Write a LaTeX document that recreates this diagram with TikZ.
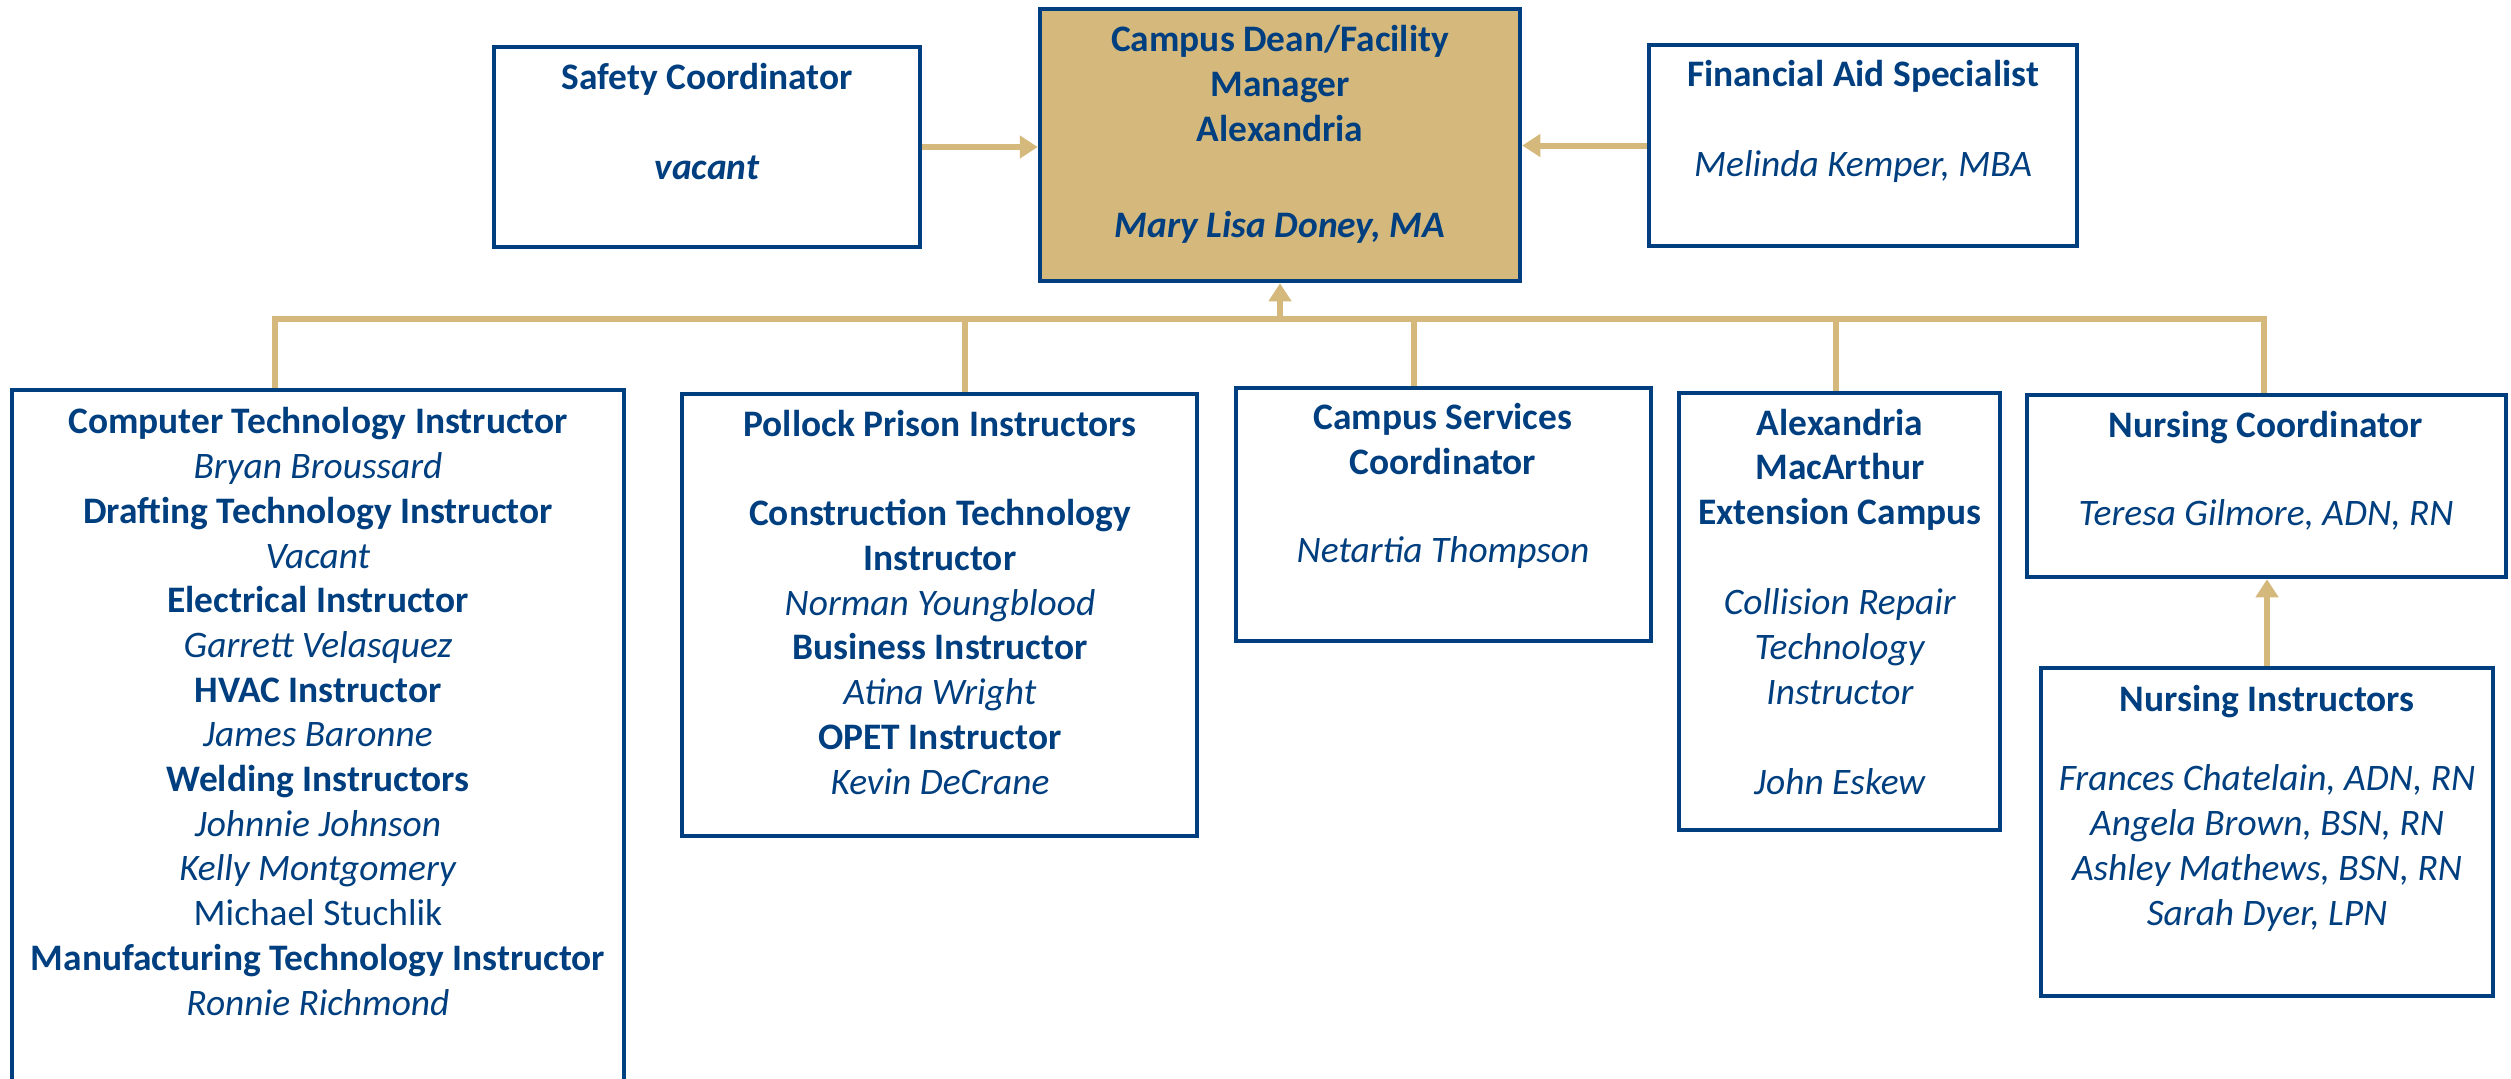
\documentclass[tikz,border=0pt]{standalone}
\usepackage{fontspec}
\setmainfont{Carlito}
\usetikzlibrary{arrows.meta}
\definecolor{navy}{HTML}{003F7F}
\definecolor{gold}{HTML}{D5B97C}
\begin{document}
\begin{tikzpicture}[x=0.5pt,y=-0.5pt,
  box/.style={draw=navy, line width=2.25pt, rectangle, inner sep=0pt},
  txt/.style={text=navy, align=center, font=\fontsize{18.7}{22.35}\selectfont, anchor=base, inner sep=0pt},
  conn/.style={draw=gold, line width=3pt},
  arr/.style={-{Triangle[length=9pt,width=11pt]}}]
\useasboundingbox (0,0) rectangle (2511,1078);
\fill[white] (0,0) rectangle (2511,1078);
\clip (0,0) rectangle (2511,1078);

% boxes
\node[box, minimum width=213pt, minimum height=100pt] (safety) at (707,147) {};
\node[box, fill=gold, minimum width=240pt, minimum height=136pt] (dean) at (1280,145) {};
\node[box, minimum width=214pt, minimum height=100.5pt] (fin) at (1863,145.5) {};
\node[box, minimum width=306pt, minimum height=354pt] (cti) at (318,744) {};
\node[box, minimum width=257.5pt, minimum height=221pt] (ppi) at (939.5,615) {};
\node[box, minimum width=207.5pt, minimum height=126.5pt] (csc) at (1443.5,514.5) {};
\node[box, minimum width=160.5pt, minimum height=218.5pt] (amc) at (1839.5,611.5) {};
\node[box, minimum width=239.5pt, minimum height=91pt] (nc) at (2266.5,486) {};
\node[box, minimum width=226pt, minimum height=164pt] (ni) at (2267,832) {};

% texts (anchor=base is the baseline of the last line)
\node[txt] (safetyT) at (707,179) {\textbf{Safety Coordinator}\\[22.5pt]\textbf{\textit{vacant}}};
\node[txt] (deanT) at (1280,237) {\textbf{Campus Dean/Facility}\\\textbf{Manager}\\\textbf{Alexandria}\\[25.5pt]\textbf{\textit{Mary Lisa Doney, MA}}};
\node[txt] (finT) at (1863,176) {\textbf{Financial Aid Specialist}\\[22.3pt]\textit{Melinda Kemper, MBA}};
\node[txt] (ctiT) at (318,1015) {\textbf{Computer Technology Instructor}\\\textit{Bryan Broussard}\\\textbf{Drafting Technology Instructor}\\\textit{Vacant}\\\textbf{Electrical Instructor}\\\textit{Garrett Velasquez}\\\textbf{HVAC Instructor}\\\textit{James Baronne}\\\textbf{Welding Instructors}\\\textit{Johnnie Johnson}\\\textit{Kelly Montgomery}\\Michael Stuchlik\\\textbf{Manufacturing Technology Instructor}\\\textit{Ronnie Richmond}};
\node[txt] (ppiT) at (940,794) {\textbf{Pollock Prison Instructors}\\[22.5pt]\textbf{Construction Technology}\\\textbf{Instructor}\\\textit{Norman Youngblood}\\\textbf{Business Instructor}\\\textit{Atina Wright}\\\textbf{OPET Instructor}\\\textit{Kevin DeCrane}};
\node[txt] (cscT) at (1443,562) {\textbf{Campus Services}\\\textbf{Coordinator}\\[21.6pt]\textit{Netartia Thompson}};
\node[txt] (amcT) at (1840,794) {\textbf{Alexandria}\\\textbf{MacArthur}\\\textbf{Extension Campus}\\[22.8pt]\textit{Collision Repair}\\\textit{Technology}\\\textit{Instructor}\\[22.5pt]\textit{John Eskew}};
\node[txt] (ncT) at (2266,525) {\textbf{Nursing Coordinator}\\[21.6pt]\textit{Teresa Gilmore, ADN, RN}};
\node[txt] (niT) at (2267,925) {\textbf{Nursing Instructors}\\[17.6pt]\textit{Frances Chatelain, ADN, RN}\\\textit{Angela Brown, BSN, RN}\\\textit{Ashley Mathews, BSN, RN}\\\textit{Sarah Dyer, LPN}};

% connectors
\coordinate (j1) at (275,319);
\coordinate (j2) at (965,319);
\coordinate (j3) at (1414,319);
\coordinate (j4) at (1836,319);
\coordinate (j5) at (2264,319);
\draw[conn, line join=miter] (j1 |- cti.north) -- (j1) -- (j5) -- (j5 |- nc.north);
\draw[conn] (j2) -- (j2 |- ppi.north);
\draw[conn] (j3) -- (j3 |- csc.north);
\draw[conn] (j4) -- (j4 |- amc.north);
\draw[conn, arr] (dean.south |- j1) -- (dean.south);
\draw[conn, arr] (safety.east) -- (safety.east -| dean.west);
\draw[conn, arr] (fin.west) -- (fin.west -| dean.east);
\draw[conn, arr] (ni.north) -- (ni.north |- nc.south);
\end{tikzpicture}
\end{document}
